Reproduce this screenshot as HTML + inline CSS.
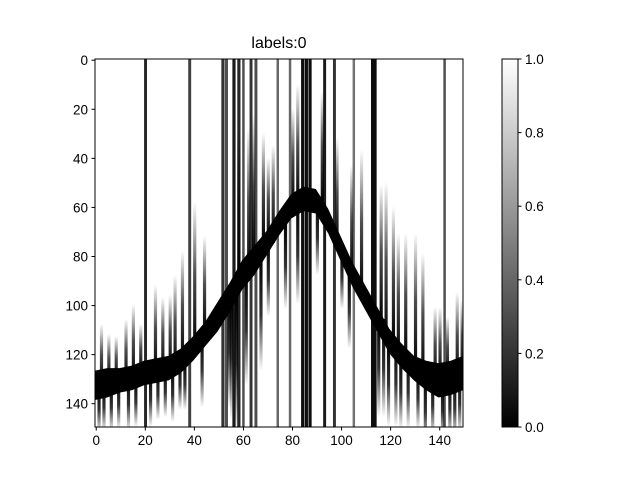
<!DOCTYPE html>
<html><head><meta charset="utf-8"><style>
body{margin:0;background:#fff;}
svg text{font-family:"Liberation Sans","DejaVu Sans",sans-serif;}
</style></head><body>
<svg id="chart" width="640" height="480" viewBox="0 0 640 480" xmlns="http://www.w3.org/2000/svg">
<defs>
<linearGradient id="fadeDown" x1="0" y1="0" x2="0" y2="1"><stop offset="0" stop-color="#000" stop-opacity="1"/><stop offset="0.5" stop-color="#000" stop-opacity="0.8"/><stop offset="1" stop-color="#000" stop-opacity="0"/></linearGradient>
<linearGradient id="fadeUp" x1="0" y1="1" x2="0" y2="0"><stop offset="0" stop-color="#000" stop-opacity="1"/><stop offset="0.5" stop-color="#000" stop-opacity="0.7"/><stop offset="1" stop-color="#000" stop-opacity="0"/></linearGradient>
<linearGradient id="cbar" x1="0" y1="1" x2="0" y2="0"><stop offset="0" stop-color="#000"/><stop offset="1" stop-color="#fff"/></linearGradient>
<clipPath id="clip"><rect x="95" y="59" width="368" height="368"/></clipPath>
</defs>
<text x="279" y="48" font-size="16" text-anchor="middle">labels:0</text>
<g id="img" clip-path="url(#clip)"></g>
<rect x="95" y="59" width="368" height="368" fill="none" stroke="#000" stroke-width="1"/>
<g id="axes"></g>
<rect x="502" y="59" width="16" height="368" fill="url(#cbar)" stroke="#000" stroke-width="1"/>
<g id="cb"></g>
</svg>
<script>
// band centre (row) at every 5th column
const bandCols = [0,5,10,15,20,25,30,35,40,45,50,55,60,65,70,75,80,85,90,95,100,105,110,115,120,125,130,135,140,145,150];
const bandRows = [133,132,131,130,128,127,126,123,118,112,105,97,88,82,75,67,60,57,58,66,77,88,97,106,115,121,126,129,131,130,128];
const bandHalf = [6,6,5,5,5,5,5,5,5,5,6,6,6,6,5,5,5,5,5,5,5,5,5,5,5,5,5,6,7,7,7];
// full-height dark lines
const lineCols = [20,38,51.5,53,56,58,60,63,65,74,79,84,85.5,87,93,97,105,112.5,113.5,142];
const lineWidths = [1.2,1.2,1.3,1.2,1.3,1.3,1,1.2,1.2,1,1,1.3,1.3,1.3,1.2,1.2,1,1.5,1.3,1];
const lineGray = [0.15,0.25,0.2,0.3,0.1,0.15,0.3,0.2,0.3,0.4,0.4,0.05,0.05,0.05,0.1,0.2,0.45,0.05,0.05,0.3];
// spikes below band: column, length in rows
const downCols = [1,3,6,9,13,16,22,25,28,31,34,36,43,54,55,57,61,67,70,77,82,90,100,103,115,117,119,122,124,127,131,134,137,141,144,146,148];
const downLen = [20,20,20,20,22,20,22,20,20,22,20,20,30,45,50,55,45,45,30,35,40,30,25,30,40,40,35,35,30,30,25,30,25,25,25,25,25];
// spikes above band: column, length in rows
const upCols = [2,5,8,12,15,18,24,27,30,32,35,40,44,58,62,64,68,70,72,80,82,92,98,104,108,116,118,121,123,126,130,133,138,140,143,147,149];
const upLen = [25,20,18,25,30,20,35,30,30,38,45,60,40,60,60,60,45,35,40,40,50,45,45,45,60,55,65,55,50,50,55,50,30,30,25,35,30];

const X0=95,Y0=59,S=368/150;
const sx=c=>X0+c*S, sy=r=>Y0+r*S;
const NS='http://www.w3.org/2000/svg';
const img=document.getElementById('img');
function mk(tag,attrs,parent){const e=document.createElementNS(NS,tag);for(const k in attrs)e.setAttribute(k,attrs[k]);parent.appendChild(e);return e;}
function bandAt(c){let k=Math.min(bandCols.length-1,Math.round(c/5));return bandRows[k];}
mk('rect',{x:X0,y:Y0,width:368,height:368,fill:'#fff'},img);
lineCols.forEach((c,i)=>{
  const g=Math.round(lineGray[i]*255);
  const e=mk('rect',{x:sx(c),y:Y0,width:lineWidths[i]*S,height:368,fill:`rgb(${g},${g},${g})`},img);
  
  
});
downCols.forEach((c,i)=>{
  const top=bandAt(c);
  const e=mk('rect',{x:sx(c),y:sy(top),width:S*1.3,height:downLen[i]*S,fill:'url(#fadeDown)'},img);
  
  
});
upCols.forEach((c,i)=>{
  const bot=bandAt(c);
  const e=mk('rect',{x:sx(c),y:sy(bot-upLen[i]),width:S*1.3,height:upLen[i]*S,fill:'url(#fadeUp)'},img);
  
  
});
let topPts=[],botPts=[];
bandCols.forEach((c,i)=>{
  topPts.push(sx(c)+','+sy(bandRows[i]-bandHalf[i]));
  botPts.unshift(sx(c)+','+sy(bandRows[i]+bandHalf[i]));
});
const band=mk('polygon',{points:topPts.concat(botPts).join(' '),fill:'#000'},img);


const ax=document.getElementById('axes');
const xticks=[0,20,40,60,80,100,120,140];
const yticks=[0,20,40,60,80,100,120,140];
xticks.forEach(t=>{
  const x=sx(t+0.5);
  mk('line',{x1:x,x2:x,y1:427,y2:430.5,stroke:'#000'},ax);
  const e=mk('text',{x:x,y:445,'font-size':'13.5','text-anchor':'middle'},ax);e.textContent=t;
  
  
});
yticks.forEach(t=>{
  const y=sy(t+0.5);
  mk('line',{x1:91.5,x2:95,y1:y,y2:y,stroke:'#000'},ax);
  const e=mk('text',{x:88,y:y+5,'font-size':'13.5','text-anchor':'end'},ax);e.textContent=t;
  
  
});
const cb=document.getElementById('cb');
const cbTicks=['0.0','0.2','0.4','0.6','0.8','1.0'];
cbTicks.forEach((t,i)=>{
  const y=427-i*368/5;
  mk('line',{x1:518,x2:521.5,y1:y,y2:y,stroke:'#000'},cb);
  const e=mk('text',{x:525,y:y+5,'font-size':'13.5'},cb);e.textContent=t;
  
  
});
</script>
</body></html>
